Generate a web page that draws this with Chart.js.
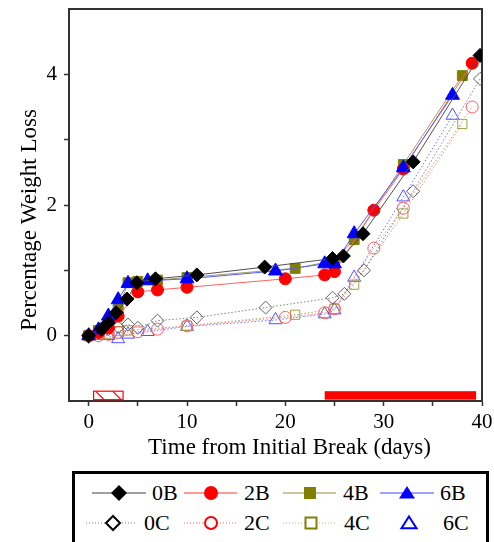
<!DOCTYPE html>
<html>
<head>
<meta charset="utf-8">
<script src="https://cdn.jsdelivr.net/npm/chart.js@4"></script>
<style>
  html, body { margin: 0; padding: 0; background: #fff; }
  body { width: 494px; height: 542px; position: relative; overflow: hidden; font-family: "Liberation Serif", "Times New Roman", serif; }
  #chart { position: absolute; left: 0; top: 0; }
  #legendBox { position: absolute; left: 72px; top: 471px; width: 411px; height: 80px; border: 3px solid #000; }
  .lsym { position: absolute; }
  .ltxt { position: absolute; font-size: 22px; line-height: 24px; color: #000; white-space: nowrap; }
</style>
</head>
<body>
<canvas id="chart" width="494" height="466"></canvas>
<div id="legendBox"></div>
<div id="legendItems"></div>
<script>
// --- データ (日数, 重量減少率 %) ---
const days0B = [0, 1.3, 2, 2.8, 3.9, 4.9, 6.8, 11, 17.9, 24.8, 25.9, 27.9, 33, 39.8];
const loss0B = [0, 0.10, 0.20, 0.35, 0.56, 0.81, 0.87, 0.93, 1.05, 1.18, 1.22, 1.56, 2.66, 4.29];

const days2B = [0, 1, 2, 3, 5, 7, 10, 20, 24, 25, 29, 32, 39];
const loss2B = [0, 0.05, 0.12, 0.30, 0.67, 0.70, 0.74, 0.87, 0.93, 0.98, 1.92, 2.55, 4.17];

const days4B = [0, 1, 2, 3, 4, 5, 7, 10, 21, 25, 27, 32, 38];
const loss4B = [0, 0.08, 0.15, 0.40, 0.81, 0.83, 0.85, 0.89, 1.03, 1.15, 1.47, 2.62, 3.98];

const days6B = [0, 1, 2, 3, 4, 6, 10, 19, 24, 25, 27, 32, 37];
const loss6B = [0, 0.09, 0.30, 0.55, 0.80, 0.84, 0.87, 0.99, 1.10, 1.10, 1.56, 2.57, 3.68];

const days0C = [0, 1, 2, 3, 4, 5, 7, 11, 18, 24.8, 26, 28, 33, 39.8];
const loss0C = [-0.02, 0.05, 0.10, 0.13, 0.17, 0.12, 0.23, 0.28, 0.43, 0.58, 0.64, 1.00, 2.21, 3.93];

const days2C = [0, 1, 2, 3, 5, 7, 10, 20, 24, 25, 29, 32, 39];
const loss2C = [0, 0.0, 0.02, 0.05, 0.06, 0.10, 0.15, 0.28, 0.35, 0.41, 1.34, 1.95, 3.50];

const days4C = [0, 1, 2, 3, 4, 10, 21, 25, 27, 32, 38];
const loss4C = [0, 0.02, 0.03, 0.07, 0.08, 0.15, 0.32, 0.41, 0.78, 1.87, 3.24];

const days6C = [0, 1, 2, 3, 4, 6, 10, 19, 24, 25, 27, 32, 37];
const loss6C = [0, 0.0, 0.0, -0.05, 0.02, 0.06, 0.14, 0.24, 0.33, 0.39, 0.89, 2.12, 3.37];

// 期間バー (日数の範囲)
const hatchedPeriods = [[0.5, 3.5]];
const solidPeriods = [[24, 39.4]];
const periodLevels = [-0.85, -0.98];

const xTickValues = [0, 5, 10, 15, 20, 25, 30, 35, 40];
const xTickLabelled = [0, 10, 20, 30, 40];
const yTickValues = [0, 1, 2, 3, 4];
const yTickLabelled = [0, 2, 4];

const xTitle = 'Time from Initial Break (days)';
const yTitle = 'Percentage Weight Loss';

const toPoints = (xs, ys) => xs.map((x, i) => ({ x, y: ys[i] }));

// 系列のスタイル
const series = [
  { label: '0B', data: toPoints(days0B, loss0B), shape: 'rectRot', r: 7, color: '#000000', line: '#505050', filled: true, dash: [] },
  { label: '6B', data: toPoints(days6B, loss6B), shape: 'triangle', r: 8, color: '#0000ff', line: '#5a5aff', filled: true, dash: [] },
  { label: '2B', data: toPoints(days2B, loss2B), shape: 'circle', r: 6, color: '#ff0000', line: '#ff6060', filled: true, dash: [] },
  { label: '4B', data: toPoints(days4B, loss4B), shape: 'rect', r: 7, color: '#808000', line: '#a0a060', filled: true, dash: [] },
  { label: '0C', data: toPoints(days0C, loss0C), shape: 'rectRot', r: 6.5, color: '#606060', line: '#808080', filled: false, dash: [1.5, 2] },
  { label: '2C', data: toPoints(days2C, loss2C), shape: 'circle', r: 6, color: '#ff6060', line: '#ff8080', filled: false, dash: [1.5, 2] },
  { label: '4C', data: toPoints(days4C, loss4C), shape: 'rect', r: 6.5, color: '#a0a040', line: '#b0b070', filled: false, dash: [1.5, 2] },
  { label: '6C', data: toPoints(days6C, loss6C), shape: 'triangle', r: 7.5, color: '#5050ff', line: '#7070ff', filled: false, dash: [1.5, 2] }
];

const datasets = series.map(s => ({
  label: s.label,
  data: s.data,
  showLine: true,
  tension: 0,
  borderColor: s.line,
  borderWidth: 1,
  borderDash: s.dash,
  pointStyle: s.shape,
  pointRadius: s.r,
  pointHoverRadius: s.r,
  pointBackgroundColor: s.filled ? s.color : 'rgba(255,255,255,0)',
  pointBorderColor: s.color,
  pointBorderWidth: 1
}));

const serif = 'Liberation Serif';

// 期間バーを描くプラグイン
const periodBars = {
  id: 'periodBars',
  afterDatasetsDraw(chart) {
    const { ctx, scales: { x, y } } = chart;
    const top = y.getPixelForValue(periodLevels[0]);
    const bottom = y.getPixelForValue(periodLevels[1]);
    ctx.save();
    ctx.fillStyle = '#ff0000';
    solidPeriods.forEach(([a, b]) => {
      const l = x.getPixelForValue(a), r = x.getPixelForValue(b);
      ctx.fillRect(l, top, r - l, bottom - top);
    });
    ctx.strokeStyle = '#ff0000';
    ctx.lineWidth = 1.2;
    hatchedPeriods.forEach(([a, b]) => {
      const l = x.getPixelForValue(a), r = x.getPixelForValue(b);
      ctx.strokeRect(l, top, r - l, bottom - top);
      ctx.save();
      ctx.beginPath();
      ctx.rect(l, top, r - l, bottom - top);
      ctx.clip();
      ctx.beginPath();
      const h = bottom - top;
      for (let px = l + 2; px < r; px += 17) {
        ctx.moveTo(px, top);
        ctx.lineTo(px + h, bottom);
      }
      ctx.stroke();
      ctx.restore();
    });
    ctx.restore();
  }
};

// 軸タイトル (元図では少し原点側から外れた位置にある)
const axisTitles = {
  id: 'axisTitles',
  afterDraw(chart) {
    const { ctx, chartArea: a } = chart;
    ctx.save();
    ctx.fillStyle = '#000';
    ctx.font = `23px "${serif}"`;
    ctx.textAlign = 'center';
    ctx.textBaseline = 'middle';
    ctx.fillText(xTitle, (a.left + a.right) / 2 + 14, 448);
    ctx.translate(30, (a.top + a.bottom) / 2 + 15);
    ctx.rotate(-Math.PI / 2);
    ctx.fillText(yTitle, 0, 0);
    ctx.restore();
  }
};

// ラベルのはみ出し分の余白を消す
const noPad = s => { s.paddingTop = 0; s.paddingBottom = 0; s.paddingLeft = 0; s.paddingRight = 0; };

new Chart(document.getElementById('chart').getContext('2d'), {
  type: 'scatter',
  data: { datasets },
  options: {
    responsive: false,
    animation: false,
    devicePixelRatio: 1,
    layout: { padding: 0 },
    plugins: { legend: { display: false }, tooltip: { enabled: false } },
    scales: {
      x: {
        type: 'linear', position: 'bottom', min: -2, max: 40,
        afterBuildTicks: s => { s.ticks = xTickValues.map(v => ({ value: v })); },
        afterFit: s => { s.height = 65; noPad(s); },
        ticks: { autoSkip: false, maxRotation: 0, padding: 4, color: '#000', font: { family: serif, size: 21 },
                 callback: v => xTickLabelled.includes(v) ? String(v) : '' },
        grid: { drawOnChartArea: false, drawTicks: true, tickLength: 5, tickColor: '#333', tickWidth: 1.5 },
        border: { color: '#333', width: 2 }
      },
      xTop: {
        type: 'linear', position: 'top', min: -2, max: 40,
        afterFit: s => { s.height = 7; noPad(s); },
        ticks: { display: false }, grid: { display: false },
        border: { display: true, color: '#333', width: 2 }
      },
      y: {
        type: 'linear', position: 'left', min: -1, max: 5,
        afterBuildTicks: s => { s.ticks = yTickValues.map(v => ({ value: v })); },
        afterFit: s => { s.width = 69; noPad(s); },
        ticks: { autoSkip: false, padding: 7, color: '#000', font: { family: serif, size: 21 },
                 callback: v => yTickLabelled.includes(v) ? String(v) : '' },
        grid: { drawOnChartArea: false, drawTicks: true, tickLength: 5, tickColor: '#333', tickWidth: 1.5 },
        border: { color: '#333', width: 2 }
      },
      yRight: {
        type: 'linear', position: 'right', min: -1, max: 5,
        afterFit: s => { s.width = 12; noPad(s); },
        ticks: { display: false }, grid: { display: false },
        border: { display: true, color: '#333', width: 2 }
      }
    }
  },
  plugins: [periodBars, axisTitles]
});

// --- 凡例 (HTML) ---
const legendRows = [493, 523];
const legendItems = [
  { label: '0B', row: 0, x0: 92, x1: 146, mx: 119, tx: 152, shape: 'diamond', r: 8, color: '#000', filled: true, line: '#a0a0a0', dash: '' },
  { label: '2B', row: 0, x0: 184, x1: 237, mx: 211, tx: 244, shape: 'circle', r: 7, color: '#ff0000', filled: true, line: '#ff9a9a', dash: '' },
  { label: '4B', row: 0, x0: 283, x1: 336, mx: 310, tx: 343, shape: 'square', r: 6, color: '#808000', filled: true, line: '#c8c8a0', dash: '' },
  { label: '6B', row: 0, x0: 380, x1: 434, mx: 407, tx: 440, shape: 'triangle', r: 8, color: '#0000ff', filled: true, line: '#a0a0ff', dash: '' },
  { label: '0C', row: 1, x0: 86, x1: 137, mx: 113, tx: 144, shape: 'diamond', r: 7, color: '#000', filled: false, line: '#c0c0c0', dash: '1 2' },
  { label: '2C', row: 1, x0: 184, x1: 237, mx: 211, tx: 244, shape: 'circle', r: 6, color: '#ff0000', filled: false, line: '#ffb0b0', dash: '1 2' },
  { label: '4C', row: 1, x0: 283, x1: 335, mx: 311, tx: 344, shape: 'square', r: 5.5, color: '#808000', filled: false, line: '#d8d8b8', dash: '1 2' },
  { label: '6C', row: 1, x0: 409, x1: 409, mx: 409, tx: 443, shape: 'triangle', r: 7.5, color: '#0000ff', filled: false, line: 'none', dash: '' }
];

function markerSvg(it, cx, cy) {
  const fill = it.filled ? it.color : '#fff';
  const sw = it.filled ? 0 : 2;
  const r = it.r;
  if (it.shape === 'circle') return `<circle cx="${cx}" cy="${cy}" r="${r}" fill="${fill}" stroke="${it.color}" stroke-width="${sw}"/>`;
  if (it.shape === 'square') return `<rect x="${cx - r}" y="${cy - r}" width="${2 * r}" height="${2 * r}" fill="${fill}" stroke="${it.color}" stroke-width="${sw}"/>`;
  if (it.shape === 'diamond') return `<polygon points="${cx},${cy - r} ${cx + r},${cy} ${cx},${cy + r} ${cx - r},${cy}" fill="${fill}" stroke="${it.color}" stroke-width="${sw}"/>`;
  const h = r * 0.87;
  return `<polygon points="${cx},${cy - h} ${cx + r},${cy + h * 0.8} ${cx - r},${cy + h * 0.8}" fill="${fill}" stroke="${it.color}" stroke-width="${sw}"/>`;
}

const holder = document.getElementById('legendItems');
legendItems.forEach(it => {
  const cy = legendRows[it.row];
  const left = Math.min(it.x0, it.mx - 10);
  const right = Math.max(it.x1, it.mx + 10);
  const w = right - left;
  const lineSvg = it.line === 'none' ? '' :
    `<line x1="${it.x0 - left}" y1="12" x2="${it.x1 - left}" y2="12" stroke="${it.line}" stroke-width="2" ${it.dash ? `stroke-dasharray="${it.dash}"` : ''}/>`;
  const svg = document.createElement('div');
  svg.className = 'lsym';
  svg.style.left = left + 'px';
  svg.style.top = (cy - 12) + 'px';
  svg.innerHTML = `<svg width="${w}" height="24" xmlns="http://www.w3.org/2000/svg">${lineSvg}${markerSvg(it, it.mx - left, 12)}</svg>`;
  holder.appendChild(svg);
  const t = document.createElement('div');
  t.className = 'ltxt';
  t.style.left = it.tx + 'px';
  t.style.top = (cy - 12) + 'px';
  t.textContent = it.label;
  holder.appendChild(t);
});
</script>
</body>
</html>
